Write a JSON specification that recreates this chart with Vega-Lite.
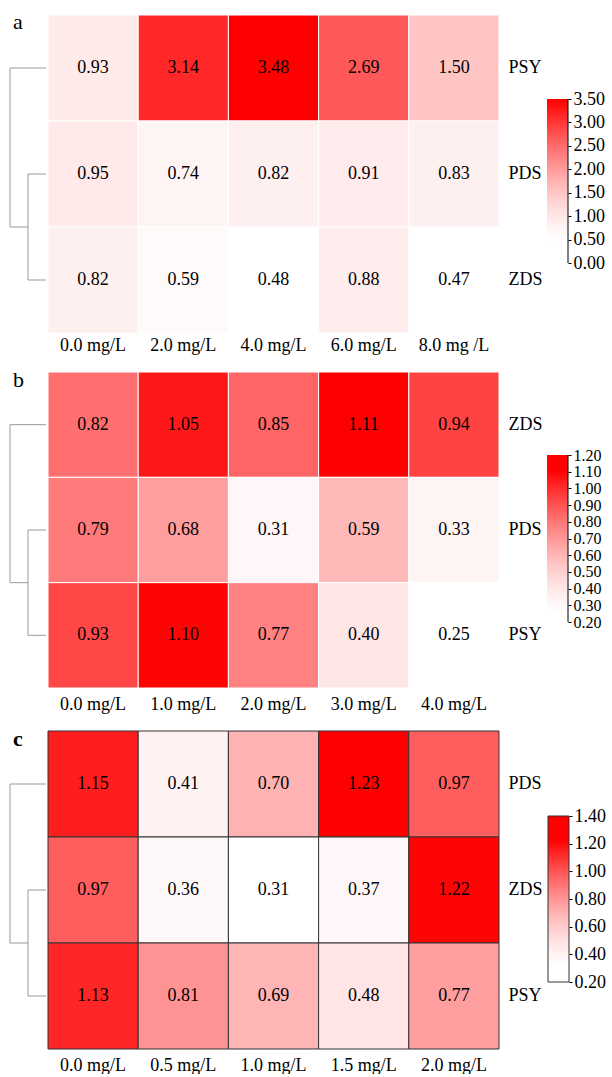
{
  "$schema": "https://vega.github.io/schema/vega-lite/v6.json",
  "padding": {"left": 0, "top": 10, "right": 0, "bottom": 0},
  "config": {
    "view": {"stroke": null},
    "font": "Liberation Serif",
    "axis": {"labelFont": "Liberation Serif", "labelFontSize": 18, "labelColor": "black", "grid": false, "labelOverlap": false}
  },
  "datasets": {
    "a": [
      {"gene": "PSY", "conc": "0.0 mg/L", "value": 0.93},
      {"gene": "PSY", "conc": "2.0 mg/L", "value": 3.14},
      {"gene": "PSY", "conc": "4.0 mg/L", "value": 3.48},
      {"gene": "PSY", "conc": "6.0 mg/L", "value": 2.69},
      {"gene": "PSY", "conc": "8.0 mg /L", "value": 1.50},
      {"gene": "PDS", "conc": "0.0 mg/L", "value": 0.95},
      {"gene": "PDS", "conc": "2.0 mg/L", "value": 0.74},
      {"gene": "PDS", "conc": "4.0 mg/L", "value": 0.82},
      {"gene": "PDS", "conc": "6.0 mg/L", "value": 0.91},
      {"gene": "PDS", "conc": "8.0 mg /L", "value": 0.83},
      {"gene": "ZDS", "conc": "0.0 mg/L", "value": 0.82},
      {"gene": "ZDS", "conc": "2.0 mg/L", "value": 0.59},
      {"gene": "ZDS", "conc": "4.0 mg/L", "value": 0.48},
      {"gene": "ZDS", "conc": "6.0 mg/L", "value": 0.88},
      {"gene": "ZDS", "conc": "8.0 mg /L", "value": 0.47}
    ],
    "b": [
      {"gene": "ZDS", "conc": "0.0 mg/L", "value": 0.82},
      {"gene": "ZDS", "conc": "1.0 mg/L", "value": 1.05},
      {"gene": "ZDS", "conc": "2.0 mg/L", "value": 0.85},
      {"gene": "ZDS", "conc": "3.0 mg/L", "value": 1.11},
      {"gene": "ZDS", "conc": "4.0 mg/L", "value": 0.94},
      {"gene": "PDS", "conc": "0.0 mg/L", "value": 0.79},
      {"gene": "PDS", "conc": "1.0 mg/L", "value": 0.68},
      {"gene": "PDS", "conc": "2.0 mg/L", "value": 0.31},
      {"gene": "PDS", "conc": "3.0 mg/L", "value": 0.59},
      {"gene": "PDS", "conc": "4.0 mg/L", "value": 0.33},
      {"gene": "PSY", "conc": "0.0 mg/L", "value": 0.93},
      {"gene": "PSY", "conc": "1.0 mg/L", "value": 1.10},
      {"gene": "PSY", "conc": "2.0 mg/L", "value": 0.77},
      {"gene": "PSY", "conc": "3.0 mg/L", "value": 0.40},
      {"gene": "PSY", "conc": "4.0 mg/L", "value": 0.25}
    ],
    "c": [
      {"gene": "PDS", "conc": "0.0 mg/L", "value": 1.15},
      {"gene": "PDS", "conc": "0.5 mg/L", "value": 0.41},
      {"gene": "PDS", "conc": "1.0 mg/L", "value": 0.70},
      {"gene": "PDS", "conc": "1.5 mg/L", "value": 1.23},
      {"gene": "PDS", "conc": "2.0 mg/L", "value": 0.97},
      {"gene": "ZDS", "conc": "0.0 mg/L", "value": 0.97},
      {"gene": "ZDS", "conc": "0.5 mg/L", "value": 0.36},
      {"gene": "ZDS", "conc": "1.0 mg/L", "value": 0.31},
      {"gene": "ZDS", "conc": "1.5 mg/L", "value": 0.37},
      {"gene": "ZDS", "conc": "2.0 mg/L", "value": 1.22},
      {"gene": "PSY", "conc": "0.0 mg/L", "value": 1.13},
      {"gene": "PSY", "conc": "0.5 mg/L", "value": 0.81},
      {"gene": "PSY", "conc": "1.0 mg/L", "value": 0.69},
      {"gene": "PSY", "conc": "1.5 mg/L", "value": 0.48},
      {"gene": "PSY", "conc": "2.0 mg/L", "value": 0.77}
    ],
    "dendro": [
      {"h1": 0, "h2": 3.6, "p1": 0.5, "p2": 0.5},
      {"h1": 0, "h2": 1.8, "p1": 1.5, "p2": 1.5},
      {"h1": 0, "h2": 1.8, "p1": 2.5, "p2": 2.5},
      {"h1": 1.8, "h2": 1.8, "p1": 1.5, "p2": 2.5},
      {"h1": 1.8, "h2": 3.6, "p1": 2.0, "p2": 2.0},
      {"h1": 3.6, "h2": 3.6, "p1": 0.5, "p2": 2.0}
    ]
  },
  "resolve": {"scale": {"color": "independent", "x": "independent", "y": "independent"}},
  "spacing": 14,
  "vconcat": [
    {
      "resolve": {"scale": {"x": "independent", "y": "independent"}},
      "spacing": 4,
      "hconcat": [
        {
          "resolve": {"scale": {"x": "independent", "y": "independent"}},
          "spacing": 0,
          "hconcat": [
            {
              "width": 46, "height": 318,
              "layer": [
                {
                  "data": {"name": "dendro"},
                  "mark": {"type": "rule", "color": "#9a9a9a", "strokeWidth": 1},
                  "encoding": {
                    "x": {"field": "h1", "type": "quantitative", "scale": {"domain": [0, 4.6], "reverse": true, "nice": false, "zero": false}, "axis": null},
                    "x2": {"field": "h2"},
                    "y": {"field": "p1", "type": "quantitative", "scale": {"domain": [0, 3], "reverse": true, "nice": false, "zero": false}, "axis": null},
                    "y2": {"field": "p2"}
                  }
                },
                {
                  "data": {"values": [{"label": "a"}]},
                  "mark": {"type": "text", "align": "left", "baseline": "alphabetic", "fontSize": 22, "font": "Liberation Serif", "fill": "black"},
                  "encoding": {"x": {"datum": 3.3}, "y": {"datum": 0.132}, "text": {"field": "label", "type": "nominal"}}
                }
              ]
            },
            {
              "width": 451, "height": 318,
              "data": {"name": "a"},
              "encoding": {
                "x": {"field": "conc", "type": "nominal", "sort": ["0.0 mg/L", "2.0 mg/L", "4.0 mg/L", "6.0 mg/L", "8.0 mg /L"], "scale": {"paddingInner": 0, "paddingOuter": 0}, "axis": {"title": null, "orient": "bottom", "labelAngle": 0, "ticks": false, "domain": false, "labelPadding": 3}},
                "y": {"field": "gene", "type": "nominal", "sort": ["PSY", "PDS", "ZDS"], "scale": {"paddingInner": 0, "paddingOuter": 0}, "axis": {"title": null, "orient": "right", "ticks": false, "domain": false, "labelPadding": 9}}
              },
              "layer": [
                {
                  "mark": {"type": "rect", "stroke": "white", "strokeWidth": 1},
                  "encoding": {"color": {"field": "value", "type": "quantitative", "legend": null, "scale": {"interpolate": "rgb", "domain": [0, 0.47, 0.771, 1.072, 1.373, 1.674, 1.975, 2.276, 2.577, 2.878, 3.179, 3.48, 3.5], "range": ["#ffffff", "#ffffff", "#fff3f3", "#ffe2e2", "#ffcfcf", "#ffb8b8", "#ff9e9e", "#ff8282", "#ff6464", "#ff4444", "#ff2323", "#ff0000", "#ff0000"]}}}
                },
                {
                  "mark": {"type": "text", "fontSize": 18, "font": "Liberation Serif", "color": "black"},
                  "encoding": {"text": {"field": "value", "type": "quantitative", "format": ".2f"}}
                }
              ]
            }
          ]
        },
        {
          "width": 21, "height": 318,
          "data": {"values": [{"lo": 0, "hi": 3.5}]},
          "encoding": {
            "y": {"field": "lo", "type": "quantitative", "scale": {"domain": [-1.4939, 5.2927], "nice": false, "zero": false}, "axis": {"title": null, "orient": "right", "values": [0, 0.5, 1, 1.5, 2, 2.5, 3, 3.5], "format": ".2f", "domain": false, "grid": false, "tickSize": 3, "tickColor": "black", "labelPadding": 2, "labelOverlap": false, "labelFlush": false, "labelBound": false}},
            "y2": {"field": "hi"}
          },
          "layer": [
            {
              "mark": {"type": "rect", "fill": {"gradient": "linear", "x1": 0, "y1": 1, "x2": 0, "y2": 0, "stops": [
                {"offset": 0, "color": "#ffffff"}, {"offset": 0.1343, "color": "#ffffff"}, {"offset": 0.2203, "color": "#fff3f3"}, {"offset": 0.3063, "color": "#ffe2e2"}, {"offset": 0.3923, "color": "#ffcfcf"}, {"offset": 0.4783, "color": "#ffb8b8"}, {"offset": 0.5643, "color": "#ff9e9e"}, {"offset": 0.6503, "color": "#ff8282"}, {"offset": 0.7363, "color": "#ff6464"}, {"offset": 0.8223, "color": "#ff4444"}, {"offset": 0.9083, "color": "#ff2323"}, {"offset": 0.9943, "color": "#ff0000"}, {"offset": 1, "color": "#ff0000"}]}},
              "encoding": {
                "x": {"datum": 0, "type": "quantitative", "scale": {"domain": [0, 1], "nice": false}, "axis": null},
                "x2": {"datum": 1}
              }
            },
            {
              "mark": {"type": "rule", "color": "black", "strokeWidth": 1},
              "encoding": {"x": {"datum": 1, "type": "quantitative"}}
            }
          ]
        }
      ]
    },
    {
      "resolve": {"scale": {"x": "independent", "y": "independent"}},
      "spacing": 4,
      "hconcat": [
        {
          "resolve": {"scale": {"x": "independent", "y": "independent"}},
          "spacing": 0,
          "hconcat": [
            {
              "width": 46, "height": 316,
              "layer": [
                {
                  "data": {"name": "dendro"},
                  "mark": {"type": "rule", "color": "#9a9a9a", "strokeWidth": 1},
                  "encoding": {
                    "x": {"field": "h1", "type": "quantitative", "scale": {"domain": [0, 4.6], "reverse": true, "nice": false, "zero": false}, "axis": null},
                    "x2": {"field": "h2"},
                    "y": {"field": "p1", "type": "quantitative", "scale": {"domain": [0, 3], "reverse": true, "nice": false, "zero": false}, "axis": null},
                    "y2": {"field": "p2"}
                  }
                },
                {
                  "data": {"values": [{"label": "b"}]},
                  "mark": {"type": "text", "align": "left", "baseline": "alphabetic", "fontSize": 22, "font": "Liberation Serif", "fill": "black"},
                  "encoding": {"x": {"datum": 3.3}, "y": {"datum": 0.142}, "text": {"field": "label", "type": "nominal"}}
                }
              ]
            },
            {
              "width": 451, "height": 316,
              "data": {"name": "b"},
              "encoding": {
                "x": {"field": "conc", "type": "nominal", "sort": ["0.0 mg/L", "1.0 mg/L", "2.0 mg/L", "3.0 mg/L", "4.0 mg/L"], "scale": {"paddingInner": 0, "paddingOuter": 0}, "axis": {"title": null, "orient": "bottom", "labelAngle": 0, "ticks": false, "domain": false, "labelPadding": 7}},
                "y": {"field": "gene", "type": "nominal", "sort": ["ZDS", "PDS", "PSY"], "scale": {"paddingInner": 0, "paddingOuter": 0}, "axis": {"title": null, "orient": "right", "ticks": false, "domain": false, "labelPadding": 9}}
              },
              "layer": [
                {
                  "mark": {"type": "rect", "stroke": "white", "strokeWidth": 1},
                  "encoding": {"color": {"field": "value", "type": "quantitative", "legend": null, "scale": {"interpolate": "rgb", "domain": [0.2, 0.25, 0.336, 0.422, 0.508, 0.594, 0.68, 0.766, 0.852, 0.938, 1.024, 1.11, 1.2], "range": ["#ffffff", "#ffffff", "#fff3f3", "#ffe2e2", "#ffcfcf", "#ffb8b8", "#ff9e9e", "#ff8282", "#ff6464", "#ff4444", "#ff2323", "#ff0000", "#ff0000"]}}}
                },
                {
                  "mark": {"type": "text", "fontSize": 18, "font": "Liberation Serif", "color": "black"},
                  "encoding": {"text": {"field": "value", "type": "quantitative", "format": ".2f"}}
                }
              ]
            }
          ]
        },
        {
          "width": 21, "height": 316,
          "data": {"values": [{"lo": 0.2, "hi": 1.2}]},
          "encoding": {
            "y": {"field": "lo", "type": "quantitative", "scale": {"domain": [-0.195, 1.697], "nice": false, "zero": false}, "axis": {"title": null, "orient": "right", "values": [0.2, 0.3, 0.4, 0.5, 0.6, 0.7, 0.8, 0.9, 1.0, 1.1, 1.2], "format": ".2f", "domain": false, "grid": false, "tickSize": 3, "tickColor": "black", "labelPadding": 2, "labelFontSize": 16, "labelOverlap": false, "labelFlush": false, "labelBound": false}},
            "y2": {"field": "hi"}
          },
          "layer": [
            {
              "mark": {"type": "rect", "fill": {"gradient": "linear", "x1": 0, "y1": 1, "x2": 0, "y2": 0, "stops": [
                {"offset": 0, "color": "#ffffff"}, {"offset": 0.05, "color": "#ffffff"}, {"offset": 0.136, "color": "#fff3f3"}, {"offset": 0.222, "color": "#ffe2e2"}, {"offset": 0.308, "color": "#ffcfcf"}, {"offset": 0.394, "color": "#ffb8b8"}, {"offset": 0.48, "color": "#ff9e9e"}, {"offset": 0.566, "color": "#ff8282"}, {"offset": 0.652, "color": "#ff6464"}, {"offset": 0.738, "color": "#ff4444"}, {"offset": 0.824, "color": "#ff2323"}, {"offset": 0.91, "color": "#ff0000"}, {"offset": 1, "color": "#ff0000"}]}},
              "encoding": {
                "x": {"datum": 0, "type": "quantitative", "scale": {"domain": [0, 1], "nice": false}, "axis": null},
                "x2": {"datum": 1}
              }
            },
            {
              "mark": {"type": "rule", "color": "black", "strokeWidth": 1},
              "encoding": {"x": {"datum": 1, "type": "quantitative"}}
            }
          ]
        }
      ]
    },
    {
      "resolve": {"scale": {"x": "independent", "y": "independent"}},
      "spacing": 4,
      "hconcat": [
        {
          "resolve": {"scale": {"x": "independent", "y": "independent"}},
          "spacing": 0,
          "hconcat": [
            {
              "width": 46, "height": 318,
              "layer": [
                {
                  "data": {"name": "dendro"},
                  "mark": {"type": "rule", "color": "#9a9a9a", "strokeWidth": 1},
                  "encoding": {
                    "x": {"field": "h1", "type": "quantitative", "scale": {"domain": [0, 4.6], "reverse": true, "nice": false, "zero": false}, "axis": null},
                    "x2": {"field": "h2"},
                    "y": {"field": "p1", "type": "quantitative", "scale": {"domain": [0, 3], "reverse": true, "nice": false, "zero": false}, "axis": null},
                    "y2": {"field": "p2"}
                  }
                },
                {
                  "data": {"values": [{"label": "c"}]},
                  "mark": {"type": "text", "align": "left", "baseline": "alphabetic", "fontSize": 22, "fontWeight": "bold", "font": "Liberation Serif", "fill": "black"},
                  "encoding": {"x": {"datum": 3.3}, "y": {"datum": 0.139}, "text": {"field": "label", "type": "nominal"}}
                }
              ]
            },
            {
              "width": 451, "height": 318,
              "data": {"name": "c"},
              "encoding": {
                "x": {"field": "conc", "type": "nominal", "sort": ["0.0 mg/L", "0.5 mg/L", "1.0 mg/L", "1.5 mg/L", "2.0 mg/L"], "scale": {"paddingInner": 0, "paddingOuter": 0}, "axis": {"title": null, "orient": "bottom", "labelAngle": 0, "ticks": false, "domain": false, "labelPadding": 7}},
                "y": {"field": "gene", "type": "nominal", "sort": ["PDS", "ZDS", "PSY"], "scale": {"paddingInner": 0, "paddingOuter": 0}, "axis": {"title": null, "orient": "right", "ticks": false, "domain": false, "labelPadding": 9}}
              },
              "layer": [
                {
                  "mark": {"type": "rect", "stroke": "#333333", "strokeWidth": 1},
                  "encoding": {"color": {"field": "value", "type": "quantitative", "legend": null, "scale": {"interpolate": "rgb", "domain": [0.2, 0.31, 0.402, 0.494, 0.586, 0.678, 0.77, 0.862, 0.954, 1.046, 1.138, 1.23, 1.4], "range": ["#ffffff", "#ffffff", "#fff3f3", "#ffe2e2", "#ffcfcf", "#ffb8b8", "#ff9e9e", "#ff8282", "#ff6464", "#ff4444", "#ff2323", "#ff0000", "#ff0000"]}}}
                },
                {
                  "mark": {"type": "text", "fontSize": 18, "font": "Liberation Serif", "color": "black"},
                  "encoding": {"text": {"field": "value", "type": "quantitative", "format": ".2f"}}
                }
              ]
            }
          ]
        },
        {
          "width": 21, "height": 318,
          "data": {"values": [{"lo": 0.2, "hi": 1.4}]},
          "encoding": {
            "y": {"field": "lo", "type": "quantitative", "scale": {"domain": [-0.2843, 2.0145], "nice": false, "zero": false}, "axis": {"title": null, "orient": "right", "values": [0.2, 0.4, 0.6, 0.8, 1.0, 1.2, 1.4], "format": ".2f", "domain": false, "grid": false, "tickSize": 3, "tickColor": "black", "labelPadding": 2, "labelOverlap": false, "labelFlush": false, "labelBound": false}},
            "y2": {"field": "hi"}
          },
          "layer": [
            {
              "mark": {"type": "rect", "stroke": "#333333", "strokeWidth": 1, "fill": {"gradient": "linear", "x1": 0, "y1": 1, "x2": 0, "y2": 0, "stops": [
                {"offset": 0, "color": "#ffffff"}, {"offset": 0.0917, "color": "#ffffff"}, {"offset": 0.1683, "color": "#fff3f3"}, {"offset": 0.245, "color": "#ffe2e2"}, {"offset": 0.3217, "color": "#ffcfcf"}, {"offset": 0.3983, "color": "#ffb8b8"}, {"offset": 0.475, "color": "#ff9e9e"}, {"offset": 0.5517, "color": "#ff8282"}, {"offset": 0.6283, "color": "#ff6464"}, {"offset": 0.705, "color": "#ff4444"}, {"offset": 0.7817, "color": "#ff2323"}, {"offset": 0.8583, "color": "#ff0000"}, {"offset": 1, "color": "#ff0000"}]}},
              "encoding": {
                "x": {"datum": 0, "type": "quantitative", "scale": {"domain": [0, 1], "nice": false}, "axis": null},
                "x2": {"datum": 1}
              }
            }
          ]
        }
      ]
    }
  ]
}
